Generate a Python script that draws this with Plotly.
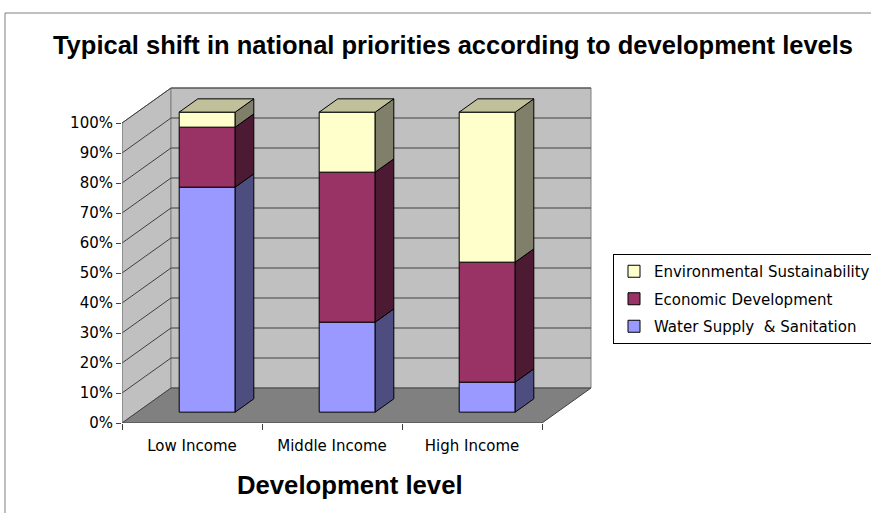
import plotly.graph_objects as go

# ---------------- data ----------------
categories = ["Low Income", "Middle Income", "High Income"]
series_names = ["Water Supply  & Sanitation", "Economic Development", "Environmental Sustainability"]
water_supply = [75, 30, 10]
economic_dev = [20, 50, 40]
environmental = [5, 20, 50]
y_ticks = [0, 10, 20, 30, 40, 50, 60, 70, 80, 90, 100]
y_tick_labels = [f"{v}%" for v in y_ticks]

# ---------------- styles / geometry ----------------
front_colors = ["#9999FF", "#993366", "#FFFFCC"]
side_colors = ["#4D4D80", "#4D1A33", "#80806A"]
top_colors = ["#7373BF", "#73264D", "#C0C09A"]
DX = 0.35          # depth shift along x (category units)
DY = 35 / 3        # depth shift along y (percent units)
D0, D1 = 0.31, 0.69  # bar depth extent
BAR_W = 0.4
FONT = "DejaVu Sans"
TITLE_FONT = "Liberation Sans, Arial"

series_values = [water_supply, economic_dev, environmental]
n_cat = len(categories)
n_ser = len(series_values)

fig = go.Figure()

# cumulative bases
bases = []
cum = [0] * n_cat
for vals in series_values:
    bases.append(list(cum))
    cum = [c + v for c, v in zip(cum, vals)]
totals = cum

# front faces (bars)
for s, vals in enumerate(series_values):
    fig.add_trace(go.Bar(
        x=[i + D0 * DX for i in range(n_cat)],
        y=vals,
        base=[b + D0 * DY for b in bases[s]],
        width=BAR_W,
        name=series_names[s],
        legendgroup=series_names[s],
        legendrank=n_ser - s,
        marker=dict(color=front_colors[s], line=dict(color="#000000", width=1)),
        hoverinfo="skip",
    ))

ddx = (D1 - D0) * DX
ddy = (D1 - D0) * DY

# side faces
for s, vals in enumerate(series_values):
    xs, ys = [], []
    for i in range(n_cat):
        xr = i + D0 * DX + BAR_W / 2
        b = bases[s][i] + D0 * DY
        t = b + vals[i]
        xs += [xr, xr + ddx, xr + ddx, xr, xr, None]
        ys += [b, b + ddy, t + ddy, t, b, None]
    fig.add_trace(go.Scatter(
        x=xs, y=ys, mode="lines", fill="toself",
        fillcolor=side_colors[s], line=dict(color="#000000", width=1),
        showlegend=False, hoverinfo="skip",
    ))

# top faces
xs, ys = [], []
for i in range(n_cat):
    xl = i + D0 * DX - BAR_W / 2
    xr = xl + BAR_W
    t = totals[i] + D0 * DY
    xs += [xl, xr, xr + ddx, xl + ddx, xl, None]
    ys += [t, t, t + ddy, t + ddy, t, None]
fig.add_trace(go.Scatter(
    x=xs, y=ys, mode="lines", fill="toself",
    fillcolor=top_colors[2], line=dict(color="#000000", width=1),
    showlegend=False, hoverinfo="skip",
))

# ---------------- walls, floor, gridlines (shapes below) ----------------
xL, xR = -0.5, n_cat - 0.5
ymax = y_ticks[-1]
shapes = []
# side wall
shapes.append(dict(type="path", xref="x", yref="y", layer="below",
                   path=f"M{xL},0 L{xL+DX},{DY} L{xL+DX},{ymax+DY} L{xL},{ymax} Z",
                   fillcolor="#C0C0C0", line=dict(color="#808080", width=1)))
# back wall
shapes.append(dict(type="path", xref="x", yref="y", layer="below",
                   path=f"M{xL+DX},{DY} L{xR+DX},{DY} L{xR+DX},{ymax+DY} L{xL+DX},{ymax+DY} Z",
                   fillcolor="#C0C0C0", line=dict(color="#808080", width=1)))
# floor
shapes.append(dict(type="path", xref="x", yref="y", layer="below",
                   path=f"M{xL},0 L{xR},0 L{xR+DX},{DY} L{xL+DX},{DY} Z",
                   fillcolor="#808080", line=dict(color="#404040", width=1)))
# gridlines
for v in y_ticks[1:]:
    shapes.append(dict(type="path", xref="x", yref="y", layer="below",
                       path=f"M{xL},{v} L{xL+DX},{v+DY} L{xR+DX},{v+DY}",
                       line=dict(color="#404040", width=1)))
# front vertical axis line
shapes.append(dict(type="line", xref="x", yref="y", layer="below",
                   x0=xL, x1=xL, y0=0, y1=ymax, line=dict(color="#808080", width=1)))

# outer frame
L, T, PW, PH = 122, 78, 490, 345
shapes.append(dict(type="rect", xref="paper", yref="paper", layer="below",
                   x0=(5 - L) / PW, x1=2.0, y0=(T + PH - 13) / PH, y1=-1.0,
                   line=dict(color="#808080", width=1), fillcolor="rgba(0,0,0,0)"))

fig.update_layout(
    width=871, height=513,
    margin=dict(l=L, r=871 - L - PW, t=T, b=513 - T - PH, autoexpand=False),
    paper_bgcolor="white", plot_bgcolor="white",
    barmode="overlay",
    shapes=shapes,
    font=dict(family=FONT, size=15, color="#000000"),
    title=dict(text="<b>Typical shift in national priorities according to development levels</b>",
               font=dict(family=TITLE_FONT, size=25.5, color="#000000"),
               x=453 / 871, xref="container", xanchor="center",
               y=1 - 45 / 513, yref="container", yanchor="middle"),
    xaxis=dict(range=[-0.5, 3.0], tickmode="array", tickvals=list(range(n_cat)),
               ticktext=categories, ticks="", showgrid=False, zeroline=False,
               showline=False, ticklabelstandoff=12,
               tickfont=dict(family=FONT, size=15, color="#000000"),
               minor=dict(tickmode="array", tickvals=[-0.5, 0.5, 1.5, 2.5],
                          ticks="outside", ticklen=6, tickcolor="#404040", showgrid=False)),
    yaxis=dict(range=[0, 115], tickmode="array", tickvals=y_ticks, ticktext=y_tick_labels,
               ticks="outside", ticklen=5, tickcolor="#404040", showgrid=False,
               zeroline=False, showline=False,
               tickfont=dict(family=FONT, size=15, color="#000000")),
    legend=dict(x=(613 - L) / PW, xanchor="left", y=(T + PH - 254) / PH, yanchor="top",
                traceorder="grouped", tracegroupgap=5,
                bgcolor="white", bordercolor="#000000", borderwidth=1,
                font=dict(family=FONT, size=15, color="#000000")),
    annotations=[dict(text="<b>Development level</b>", xref="paper", yref="paper",
                      x=(350 - L) / PW, y=(T + PH - 485) / PH, xanchor="center",
                      yanchor="middle", showarrow=False,
                      font=dict(family=TITLE_FONT, size=25.7, color="#000000"))],
)

fig.write_html("out.html")
